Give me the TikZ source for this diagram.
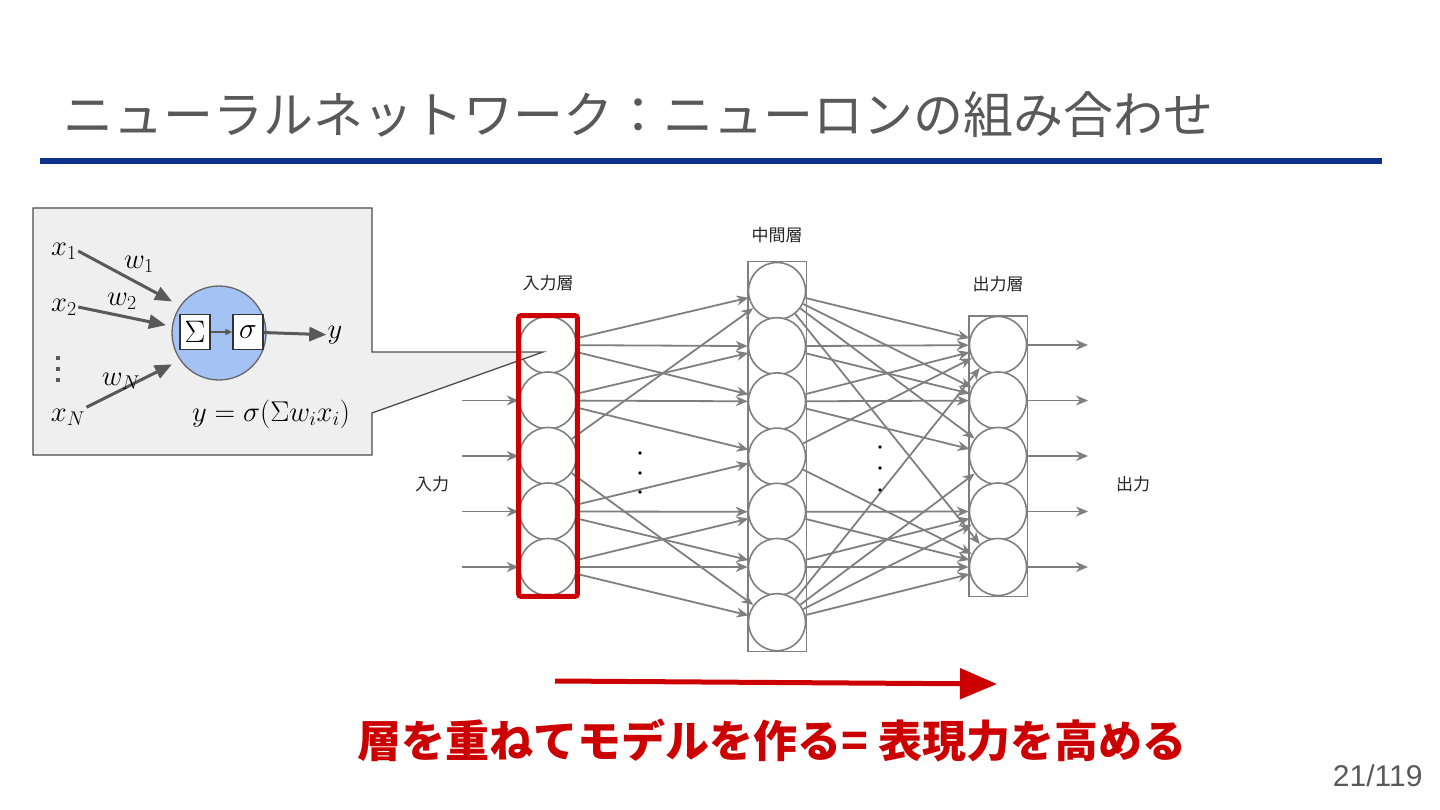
\documentclass[tikz,border=0pt]{standalone}
\usepackage{amsmath}
\usepackage{graphicx}
\usepackage{fontspec}
\newfontfamily\jpfont{Noto Sans CJK JP}
\newfontfamily\pagefont{Liberation Sans}
\usetikzlibrary{positioning, arrows.meta, fit}

\definecolor{slidegray}{HTML}{595959}
\definecolor{rulebl}{RGB}{14,50,140}
\definecolor{netgray}{HTML}{7F7F7F}
\definecolor{keyred}{RGB}{204,0,0}
\definecolor{insetfill}{HTML}{EFEFEF}
\definecolor{neuronblue}{HTML}{A4C2F4}

\tikzset{
  unit/.style={circle, draw=netgray, line width=1.6pt, fill=white, minimum size=57pt, inner sep=0pt},
  layerbox/.style={draw=netgray, line width=1.6pt, inner sep=0pt},
  netarrow/.style={draw=netgray, line width=1.8pt, -{Stealth[length=12pt,width=10pt]}},
  laylabel/.style={font=\jpfont\fontsize{17}{19}\selectfont, text=black!85},
  mathlabel/.style={font=\fontsize{24}{28}\selectfont, inner sep=1pt, scale=1.15},
  inarrow/.style={draw=slidegray, line width=3pt, -{Triangle[length=17pt,width=14pt]}},
  opbox/.style={draw=black!80, fill=white, line width=1.2pt, minimum width=30pt, minimum height=35pt, inner sep=0pt, font=\fontsize{24}{28}\selectfont},
}

\begin{document}
\begin{tikzpicture}[x=1pt, y=-1pt]
  \path[fill=white] (0,0) rectangle (1440,810);

  % title
  \node[anchor=west, inner sep=0pt, text=slidegray, font=\jpfont\fontsize{50}{60}\selectfont] (title) at (63,115) {ニューラルネットワーク：ニューロンの組み合わせ};
  \draw[rulebl, line width=6pt] (40,161) -- (1382,161);

  % layers
  \foreach \k in {1,...,5} {
    \node[unit] (i\k) at (548,{345+55.5*(\k-1)}) {};
    \node[unit] (o\k) at (998,{345+55.5*(\k-1)}) {};
  }
  \foreach \k in {1,...,7}
    \node[unit] (m\k) at (777,{291+55.2*(\k-1)}) {};

  \node[layerbox, fit=(m1)(m7)] (midbox) {};
  \node[layerbox, fit=(o1)(o5)] (outbox) {};

  % weights
  \foreach \a/\b in {1/1,1/2,1/3,2/2,2/3,2/4,3/1,3/7,4/4,4/5,4/6,5/5,5/6,5/7}
    \draw[netarrow] (i\a) -- (m\b);
  \foreach \a/\b in {1/1,1/2,1/3,1/5,2/1,2/2,3/1,3/2,3/3,4/1,4/5,5/4,5/5,6/4,6/5,7/1,7/3,7/4,7/5}
    \draw[netarrow] (m\a) -- (o\b);

  % in and out
  \foreach \k in {2,...,5} {
    \coordinate (src\k) at (462,{345+55.5*(\k-1)});
    \draw[netarrow] (src\k) -- (i\k);
  }
  \foreach \k in {1,...,5} {
    \coordinate (dst\k) at (1088,{345+55.5*(\k-1)});
    \draw[netarrow] (o\k) -- (dst\k);
  }

  \foreach \d in {453,473,492} \fill (640,\d) circle (1.8);
  \foreach \d in {447,468,490} \fill (880,\d) circle (1.8);

  \node[laylabel, above=14pt of midbox] (midlab) {中間層};
  \node[laylabel, above=19pt of outbox] (outlab) {出力層};
  \node[laylabel] (inname) at (432,484) {入力};
  \node[laylabel] (outname) at (1133,484) {出力};

  % callout with single neuron
  \filldraw[fill=insetfill, draw=black!70, line width=1.3pt] (33,208) -- (372,208) -- (372,352) -- (543,352) -- (372,413) -- (372,455) -- (33,455) -- cycle;

  \node[circle, draw=black!60, fill=neuronblue, line width=1.3pt, minimum size=94pt, inner sep=0pt] (neuron) at (219,333) {};
  \node[opbox] (sumop) at (195,332) {\scalebox{1.25}{$\Sigma$}};
  \node[opbox] (actop) at (248,332) {\scalebox{1.2}{$\sigma$}};
  \draw[draw=slidegray, line width=1.5pt, -{Triangle[length=7pt,width=6pt]}] (sumop) -- (actop);
  \node[mathlabel] (yout) at (335,335) {$y$};
  \draw[inarrow] (actop) -- (yout);

  \node[mathlabel] (xone) at (64,251) {$x_1$};
  \node[mathlabel] (xtwo) at (64,307) {$x_2$};
  \node[mathlabel] (xlast) at (68,417) {$x_N$};
  \foreach \d in {358,369,380} \fill[slidegray] (56,{\d-2}) rectangle (60,{\d+2});
  \draw[inarrow, shorten >=9pt] (xone.east) -- (neuron.145);
  \draw[inarrow, shorten >=6pt] (xtwo.east) -- (neuron.172);
  \draw[inarrow, shorten >=9pt] (xlast.north east) -- (neuron.215);
  \node[mathlabel] (wone) at (139,264) {$w_1$};
  \node[mathlabel] (wtwo) at (122,301) {$w_2$};
  \node[mathlabel] (wlast) at (121,381) {$w_N$};
  \node[mathlabel] (formula) at (271,414) {$y=\sigma(\Sigma w_i x_i)$};

  % highlighted input layer
  \node[draw=keyred, line width=5pt, rounded corners=2pt, inner sep=0pt, fit=(i1)(i5)] (inbox) {};
  \node[laylabel, above=19pt of inbox] (inlab) {入力層};

  % message
  \coordinate (flowstart) at (555,681);
  \coordinate (flowend) at (997,684);
  \draw[keyred, line width=5pt, -{Triangle[length=37pt,width=30pt]}] (flowstart) -- (flowend);
  \node[text=keyred, font=\jpfont\bfseries\fontsize{44}{50}\selectfont] (message) at (772,740) {層を重ねてモデルを作る= 表現力を高める};

  \node[anchor=east, text=slidegray, font=\pagefont\fontsize{30}{36}\selectfont] (pagenum) at (1426,776) {21/119};
\end{tikzpicture}
\end{document}
